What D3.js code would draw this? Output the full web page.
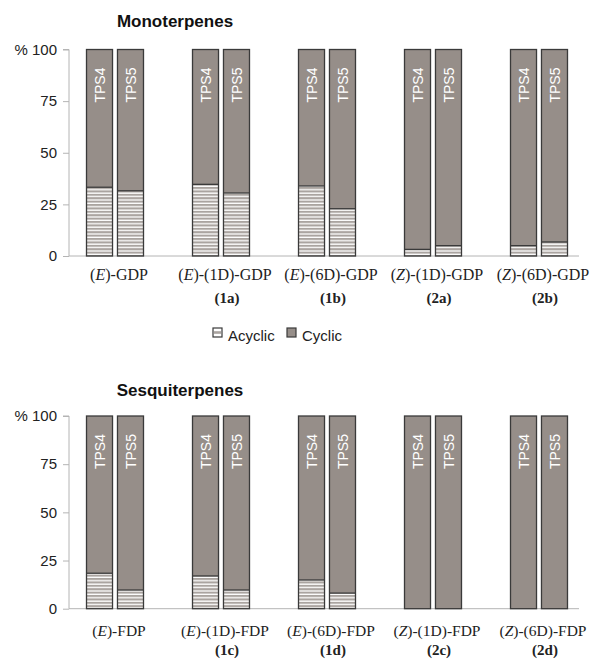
<!DOCTYPE html>
<html><head><meta charset="utf-8">
<script src="https://cdn.jsdelivr.net/npm/d3@7/dist/d3.min.js"></script>
<style>body{margin:0;background:#fff}svg{display:block}</style>
</head><body>
<svg id="c" width="597" height="659"></svg>
<script>
// ---- data ----
const monoCategories = ["(E)-GDP","(E)-(1D)-GDP","(E)-(6D)-GDP","(Z)-(1D)-GDP","(Z)-(6D)-GDP"];
const monoCodes = ["","1a","1b","2a","2b"];
const monoAcyclicTPS4 = [33.3, 34.7, 33.9, 3.2, 5.0];
const monoAcyclicTPS5 = [31.6, 30.5, 22.9, 5.0, 6.8];

const sesqCategories = ["(E)-FDP","(E)-(1D)-FDP","(E)-(6D)-FDP","(Z)-(1D)-FDP","(Z)-(6D)-FDP"];
const sesqCodes = ["","1c","1d","2c","2d"];
const sesqAcyclicTPS4 = [18.4, 17.0, 14.9, 0, 0];
const sesqAcyclicTPS5 = [9.7, 9.7, 8.1, 0, 0];

const enzymes = ["TPS4","TPS5"];
const yTicks = [0, 25, 50, 75, 100];
const legendItems = ["Acyclic","Cyclic"];

// ---- styles ----
const CYC = "#968e89", STRIPE = "#aaa4a0", EDGE = "#3a3a3a", AXIS = "#b4b4b4";
const svg = d3.select("#c");
const defs = svg.append("defs");
const pat = defs.append("pattern").attr("id","hs").attr("patternUnits","userSpaceOnUse")
  .attr("width",6).attr("height",3.4);
pat.append("rect").attr("width",6).attr("height",3.4).attr("fill","#fff");
pat.append("rect").attr("width",6).attr("height",2.1).attr("fill",STRIPE);

function panel(cfg){
  const g = svg.append("g");
  const y = d3.scaleLinear().domain([0,100]).range([cfg.y0, cfg.y1]);
  const x = d3.scalePoint().domain(cfg.cats).range([115, 539]);
  const sub = d3.scaleBand().domain(enzymes).range([-28.5, 28.5]).paddingInner(0.16);

  // title
  g.append("text").attr("x", cfg.titleX).attr("y", cfg.titleY).attr("text-anchor","middle")
    .attr("font-family","Arial, Liberation Sans, sans-serif").attr("font-weight","bold")
    .attr("font-size",17).attr("fill","#111").text(cfg.title);

  // y axis
  const ax = g.append("g").attr("transform",`translate(69,0)`)
    .call(d3.axisLeft(y).tickValues(yTicks).tickSize(6).tickPadding(6)
      .tickFormat(d => d===100 ? "% 100" : d));
  ax.select(".domain").attr("stroke",AXIS).attr("d",`M-6,${y(100)}H0V${y(0)}`);
  ax.selectAll(".tick line").attr("stroke",AXIS);
  ax.selectAll(".tick text").attr("font-family","Arial, Liberation Sans, sans-serif")
    .attr("font-size",15).attr("fill","#222");
  // x axis line
  g.append("line").attr("x1",69).attr("x2",579).attr("y1",y(0)).attr("y2",y(0)).attr("stroke",AXIS);

  const rows = [];
  cfg.cats.forEach((c,i)=>{
    rows.push({cat:c, enz:"TPS4", a:cfg.a4[i]});
    rows.push({cat:c, enz:"TPS5", a:cfg.a5[i]});
  });
  const bw = sub.bandwidth();
  const bars = g.selectAll(".bar").data(rows).join("g")
    .attr("transform", d => `translate(${x(d.cat)+sub(d.enz)},0)`);
  bars.append("rect").attr("x",0).attr("width",bw)
    .attr("y", y(100)).attr("height", d => y(d.a) - y(100)).attr("fill",CYC);
  bars.append("rect").attr("x",0).attr("width",bw)
    .attr("y", d => y(d.a)).attr("height", d => y(0)-y(d.a)).attr("fill","url(#hs)");
  bars.filter(d=>d.a>0).append("line").attr("x1",0).attr("x2",bw)
    .attr("y1",d=>y(d.a)).attr("y2",d=>y(d.a)).attr("stroke",EDGE).attr("stroke-width",1.3);
  bars.append("rect").attr("x",0).attr("width",bw).attr("y",y(100)).attr("height",y(0)-y(100))
    .attr("fill","none").attr("stroke",EDGE).attr("stroke-width",1.3);
  bars.append("text").attr("transform",`translate(${bw/2},${y(100)+18}) rotate(-90)`)
    .attr("text-anchor","end").attr("dy","0.36em")
    .attr("font-family","Arial, Liberation Sans, sans-serif").attr("font-size",14)
    .attr("fill","#fff").text(d=>d.enz);

  // category labels
  const lab = g.selectAll(".cl").data(cfg.cats).join("text")
    .attr("x", d => x(d)+4).attr("y", cfg.labY).attr("text-anchor","middle")
    .attr("font-family","Liberation Serif, Times New Roman, serif").attr("font-size",cfg.labSize).attr("fill","#222");
  lab.each(function(d){
    const t = d3.select(this);
    const m = d.match(/^\((.)\)(.*)$/);
    t.append("tspan").text("(");
    t.append("tspan").attr("font-style","italic").text(m[1]);
    t.append("tspan").text(")"+m[2]);
  });
  g.selectAll(".cc").data(cfg.cats).join("text")
    .attr("x", d => x(d)+6).attr("y", cfg.labY+cfg.rowGap).attr("text-anchor","middle")
    .attr("font-family","Liberation Serif, Times New Roman, serif").attr("font-size",15)
    .attr("font-weight","bold").attr("fill","#222")
    .text((d,i)=> cfg.codes[i] ? `(${cfg.codes[i]})` : "");
}

panel({title:"Monoterpenes", titleX:175, titleY:27, cats:monoCategories, codes:monoCodes,
  a4:monoAcyclicTPS4, a5:monoAcyclicTPS5, y0:256, y1:49.5, labY:280, rowGap:23, labSize:16});
panel({title:"Sesquiterpenes", titleX:180, titleY:396, cats:sesqCategories, codes:sesqCodes,
  a4:sesqAcyclicTPS4, a5:sesqAcyclicTPS5, y0:608.7, y1:416, labY:636, rowGap:19, labSize:15.5});

// legend
const leg = svg.append("g");
const lx = d3.scalePoint().domain(legendItems).range([213, 287]);
const li = leg.selectAll("g").data(legendItems).join("g").attr("transform", d=>`translate(${lx(d)},328)`);
li.append("rect").attr("width",9).attr("height",9).attr("fill",d=>d==="Cyclic"?CYC:"#fff")
  .attr("stroke",EDGE).attr("stroke-width",1.2);
li.filter(d=>d==="Acyclic").append("rect").attr("x",1).attr("y",3.2).attr("width",7).attr("height",2.6).attr("fill",STRIPE);
li.append("text").attr("x",15).attr("y",13).attr("font-family","Arial, Liberation Sans, sans-serif")
  .attr("font-size",15).attr("fill","#222").text(d=>d);
</script>
</body></html>
